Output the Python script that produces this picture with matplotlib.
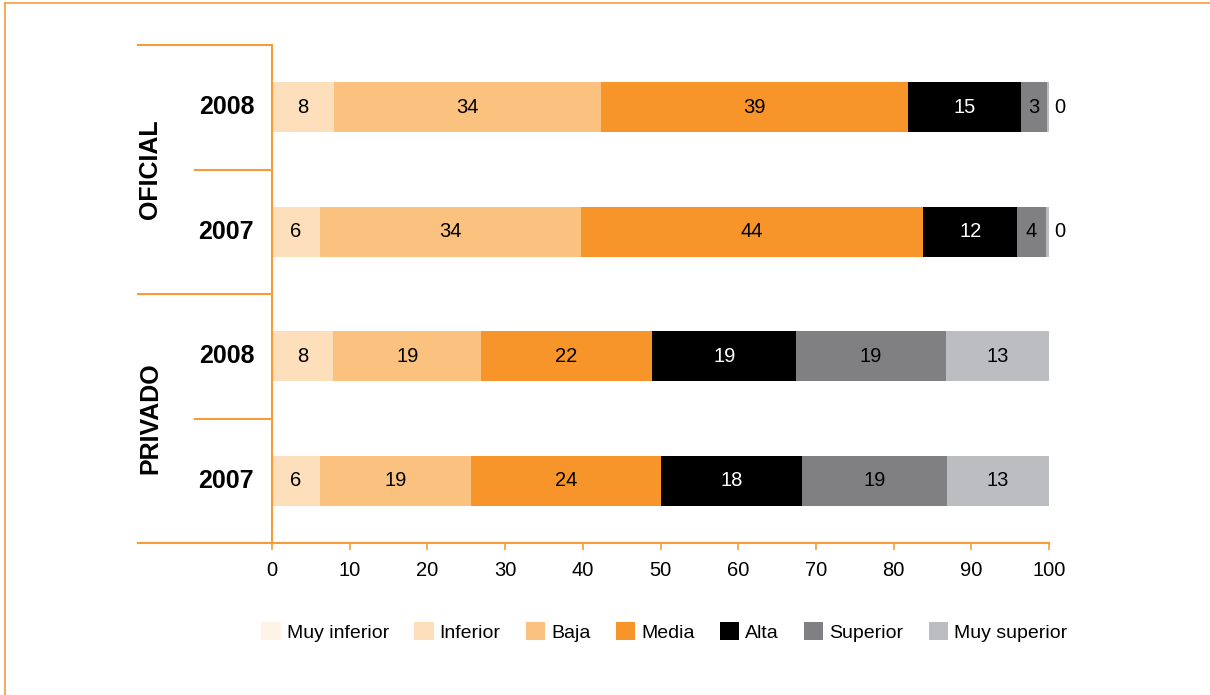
import matplotlib
matplotlib.use('Agg')
import matplotlib.pyplot as plt
from matplotlib.lines import Line2D
from matplotlib.patches import Patch
import matplotlib.transforms as mtransforms

plt.rcParams['font.family'] = ['Liberation Sans', 'DejaVu Sans']

# rows, top to bottom
groups = ['OFICIAL', 'PRIVADO']
years = ['2008', '2007', '2008', '2007']

categories = ['Muy inferior', 'Inferior', 'Baja', 'Media', 'Alta', 'Superior', 'Muy superior']
colors = ['#FDF3E6', '#FDDFBC', '#FBC17F', '#F7952A', '#000000', '#808083', '#BCBDC0']

# percentages per category, one value per row (Oficial 2008, Oficial 2007, Privado 2008, Privado 2007)
muy_inferior = [0.0, 0.0, 0.0, 0.0]
inferior = [8.0, 6.2, 7.9, 6.2]
baja = [34.4, 33.6, 19.0, 19.4]
media = [39.4, 44.0, 22.0, 24.4]
alta = [14.6, 12.1, 18.6, 18.2]
superior = [3.3, 3.7, 19.2, 18.7]
muy_superior = [0.3, 0.4, 13.3, 13.1]
series = [muy_inferior, inferior, baja, media, alta, superior, muy_superior]

orange = '#F89C3A'

fig = plt.figure(figsize=(12.1, 6.95), dpi=100)
ax = fig.add_axes([272 / 1210, 1 - 543 / 695, 777 / 1210, 498 / 695])

ypos = list(range(len(years)))
left = [0.0] * len(years)
for cat, vals, col in zip(categories, series, colors):
    ax.barh(ypos, vals, left=left, height=0.4, color=col, label=cat)
    for y, v, l in zip(ypos, vals, left):
        if cat == 'Muy inferior':
            continue
        txt = f'{round(v)}'
        tc = 'white' if cat == 'Alta' else 'black'
        if v < 1.5:
            ax.text(l + v + 0.7, y, txt, ha='left', va='center', fontsize=14.5, color='black')
        else:
            ax.text(l + v / 2, y, txt, ha='center', va='center', fontsize=14.5, color=tc)
    left = [a + b for a, b in zip(left, vals)]

ax.set_xlim(0, 100)
ax.set_ylim(3.5, -0.5)
ax.set_xticks(range(0, 101, 10))
ax.set_yticks([])
ax.tick_params(axis='x', colors=orange, labelcolor='black', labelsize=14.5, length=5, width=1.2, pad=8)

for s in ['top', 'right']:
    ax.spines[s].set_visible(False)
for s in ['left', 'bottom']:
    ax.spines[s].set_color(orange)
    ax.spines[s].set_linewidth(1.5)

# separators on the left
trans = mtransforms.blended_transform_factory(ax.transAxes, ax.transData)
for yv, x0 in [(-0.5, -0.1725), (0.5, -0.099), (1.5, -0.1725), (2.5, -0.099), (3.5, -0.1725)]:
    ax.add_line(Line2D([x0, 0], [yv, yv], transform=trans, color=orange, lw=1.5, clip_on=False))

for y, yr in zip(ypos, years):
    ax.text(-0.023, y, yr, transform=trans, ha='right', va='center', fontsize=18, fontweight='bold')
for i, g in enumerate(groups):
    ax.text(-0.157, 2 * i + 0.5, g, transform=trans, ha='center', va='center', rotation=90,
            fontsize=18, fontweight='bold')

handles = [Patch(facecolor=c, edgecolor='none') for c in colors]
fig.legend(handles, categories, loc='center', bbox_to_anchor=(0.549, 0.0906), ncol=7, frameon=False,
           fontsize=14, handlelength=1.0, handleheight=1.0, handletextpad=0.3, columnspacing=1.3)

# page frame
fig.add_artist(Line2D([5 / 1210, 1], [1 - 3 / 695, 1 - 3 / 695], transform=fig.transFigure, color=orange, lw=1.2))
fig.add_artist(Line2D([5 / 1210, 5 / 1210], [0, 1 - 3 / 695], transform=fig.transFigure, color=orange, lw=1.2))

fig.savefig('out.png', dpi=100, facecolor='white')
